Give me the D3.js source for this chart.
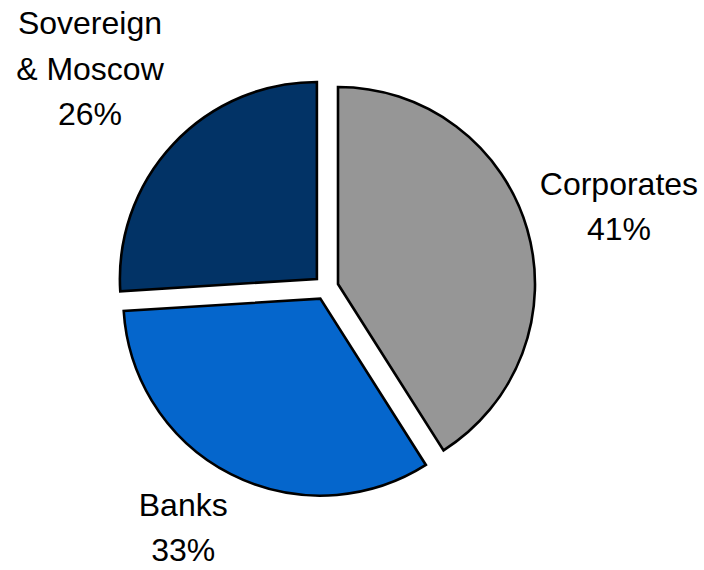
<!DOCTYPE html>
<html>
<head>
<meta charset="utf-8">
<script src="https://cdn.jsdelivr.net/npm/d3@7"></script>
<style>
  html, body { margin: 0; padding: 0; background: #ffffff; }
  svg { display: block; }
  text { font-family: "Liberation Sans", Arial, Helvetica, sans-serif; fill: #000; }
</style>
</head>
<body>
<svg id="chart" width="704" height="570"></svg>
<script>
// Portfolio split by issuer type (%)
const categories = ["Corporates", "Banks", "Sovereign & Moscow"];
const shares = [41, 33, 26];
const labelLines = [["Corporates", "41%"], ["Banks", "33%"], ["Sovereign", "& Moscow", "26%"]];
const palette = ["#969696", "#0566cc", "#023366"];

const width = 704, height = 570;
const cx = 326, cy = 287.5;
const radius = 197;
const explode = 12.5;
const fontSize = 32;
const lineHeight = 45.5;
// distance of each label block from the pie centre, along the slice bisector
const labelRadius = [304, 279, 322];
const labelAngleShift = [0.012, 0.066, -0.006];

const svg = d3.select("#chart");
const g = svg.append("g").attr("transform", `translate(${cx},${cy})`);

const pie = d3.pie().sort(null).value(d => d.value);
const arcs = pie(categories.map((c, i) => ({ name: c, value: shares[i], i })));
const arc = d3.arc().innerRadius(0).outerRadius(radius);

const mid = d => (d.startAngle + d.endAngle) / 2;

g.selectAll("path.slice")
  .data(arcs)
  .join("path")
  .attr("class", "slice")
  .attr("d", arc)
  .attr("transform", d => {
    const a = mid(d);
    return `translate(${explode * Math.sin(a)},${-explode * Math.cos(a)})`;
  })
  .attr("fill", d => palette[d.data.i])
  .attr("stroke", "#000")
  .attr("stroke-width", 2.6)
  .attr("stroke-linejoin", "miter");

g.selectAll("text.lbl")
  .data(arcs)
  .join("text")
  .attr("class", "lbl")
  .attr("text-anchor", "middle")
  .attr("font-size", fontSize)
  .each(function (d) {
    const i = d.data.i;
    const a = mid(d) + labelAngleShift[i];
    const x = labelRadius[i] * Math.sin(a);
    const y = -labelRadius[i] * Math.cos(a);
    const lines = labelLines[i];
    const first = y - (lines.length - 1) / 2 * lineHeight + fontSize * 0.35;
    d3.select(this).selectAll("tspan")
      .data(lines)
      .join("tspan")
      .attr("x", x)
      .attr("y", (t, k) => first + k * lineHeight)
      .text(t => t);
  });
</script>
</body>
</html>
